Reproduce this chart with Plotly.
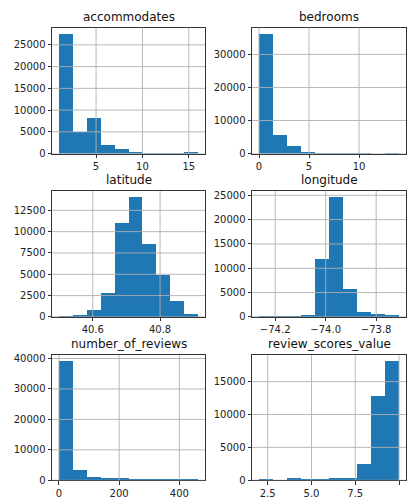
import numpy as np
import plotly.graph_objects as go

# Histogram data: (min, max) of each column, split into 10 equal-width bins, and the bin counts
accommodates_range = (1, 16)
accommodates_counts = [27600, 4950, 8200, 2150, 1250, 230, 200, 150, 20, 300]

bedrooms_range = (0, 14)
bedrooms_counts = [36300, 5750, 2300, 450, 60, 20, 10, 5, 0, 2]

latitude_range = (40.4995, 40.9129)
latitude_counts = [15, 120, 770, 2820, 11000, 14070, 8600, 4980, 1820, 350]

longitude_range = (-74.2642, -73.7095)
longitude_counts = [10, 40, 160, 220, 11830, 24660, 5750, 1010, 620, 210]

reviews_range = (0, 462)
reviews_counts = [39100, 3340, 1080, 420, 360, 60, 25, 10, 5, 3]

scores_range = (2, 10)
scores_counts = [150, 0, 160, 10, 10, 250, 300, 2500, 12800, 18100]

# Tick positions / labels per panel
accommodates_xticks = [5, 10, 15]
accommodates_xlabels = ["5", "10", "15"]
accommodates_yticks = [0, 5000, 10000, 15000, 20000, 25000]
bedrooms_xticks = [0, 5, 10]
bedrooms_xlabels = ["0", "5", "10"]
bedrooms_yticks = [0, 10000, 20000, 30000]
latitude_xticks = [40.6, 40.8]
latitude_xlabels = ["40.6", "40.8"]
latitude_yticks = [0, 2500, 5000, 7500, 10000, 12500]
longitude_xticks = [-74.2, -74.0, -73.8]
longitude_xlabels = ["\u221274.2", "\u221274.0", "\u221273.8"]
longitude_yticks = [0, 5000, 10000, 15000, 20000, 25000]
reviews_xticks = [0, 200, 400]
reviews_xlabels = ["0", "200", "400"]
reviews_yticks = [0, 10000, 20000, 30000, 40000]
scores_xticks = [2.5, 5.0, 7.5, 10.0]
scores_xlabels = ["2.5", "5.0", "7.5", "10.0"]
scores_yticks = [0, 5000, 10000, 15000]

panels = [
    ("accommodates", accommodates_range, accommodates_counts, accommodates_xticks, accommodates_xlabels, accommodates_yticks),
    ("bedrooms", bedrooms_range, bedrooms_counts, bedrooms_xticks, bedrooms_xlabels, bedrooms_yticks),
    ("latitude", latitude_range, latitude_counts, latitude_xticks, latitude_xlabels, latitude_yticks),
    ("longitude", longitude_range, longitude_counts, longitude_xticks, longitude_xlabels, longitude_yticks),
    ("number_of_reviews", reviews_range, reviews_counts, reviews_xticks, reviews_xlabels, reviews_yticks),
    ("review_scores_value", scores_range, scores_counts, scores_xticks, scores_xlabels, scores_yticks),
]

W, H = 407, 504
col_px = [(52, 205), (252, 406)]
row_px = [(26, 154), (192, 320), (359, 486)]

BAR = "#1f77b4"
GRID = "#b0b0b0"
SPINE = "#333333"
FONT = "DejaVu Sans"

fig = go.Figure()
shapes = []
annotations = []

for i, (name, (lo, hi), counts, xt, xl, yt) in enumerate(panels):
    r, c = divmod(i, 2)
    n = i + 1
    xa = "x" if n == 1 else f"x{n}"
    ya = "y" if n == 1 else f"y{n}"

    edges = np.linspace(lo, hi, len(counts) + 1)
    centers = (edges[:-1] + edges[1:]) / 2
    widths = np.diff(edges)

    fig.add_trace(go.Bar(
        x=centers, y=counts, width=widths,
        marker=dict(color=BAR, line=dict(width=0)),
        xaxis=xa, yaxis=ya, showlegend=False, hoverinfo="x+y",
    ))

    span = hi - lo
    xrange = [lo - 0.05 * span, hi + 0.05 * span]
    yrange = [0, max(counts) * 1.05]

    x0, x1 = col_px[c]
    y0, y1 = row_px[r]
    xdom = [x0 / W, x1 / W]
    ydom = [1 - y1 / H, 1 - y0 / H]

    common = dict(
        showgrid=False, zeroline=False, showline=True, mirror=True,
        linecolor=SPINE, linewidth=1, ticks="outside", ticklen=3.5,
        tickwidth=1, tickcolor=SPINE,
        tickfont=dict(family=FONT, size=10, color="#222222"),
    )
    xaxis = dict(domain=xdom, range=xrange, anchor=ya, tickmode="array",
                 tickvals=xt, ticktext=xl, **common)
    yaxis = dict(domain=ydom, range=yrange, anchor=xa, tickmode="array",
                 tickvals=yt, ticktext=[str(v) for v in yt], **common)
    fig.update_layout(**{
        ("xaxis" if n == 1 else f"xaxis{n}"): xaxis,
        ("yaxis" if n == 1 else f"yaxis{n}"): yaxis,
    })

    # grid lines drawn over the bars
    for v in xt:
        shapes.append(dict(type="line", layer="above", xref=xa, yref=f"{ya} domain",
                           x0=v, x1=v, y0=0, y1=1,
                           line=dict(color=GRID, width=0.9)))
    for v in yt:
        shapes.append(dict(type="line", layer="above", xref=f"{xa} domain", yref=ya,
                           x0=0, x1=1, y0=v, y1=v,
                           line=dict(color=GRID, width=0.9)))

    annotations.append(dict(
        text=name, xref="paper", yref="paper",
        x=(xdom[0] + xdom[1]) / 2, y=ydom[1],
        xanchor="center", yanchor="bottom", yshift=3, borderpad=0,
        showarrow=False,
        font=dict(family=FONT, size=12, color="#111111"),
    ))

fig.update_layout(
    width=W, height=H,
    margin=dict(l=0, r=0, t=0, b=0),
    paper_bgcolor="white", plot_bgcolor="white",
    bargap=0, shapes=shapes, annotations=annotations,
    font=dict(family=FONT),
)

fig.write_html("out.html")
